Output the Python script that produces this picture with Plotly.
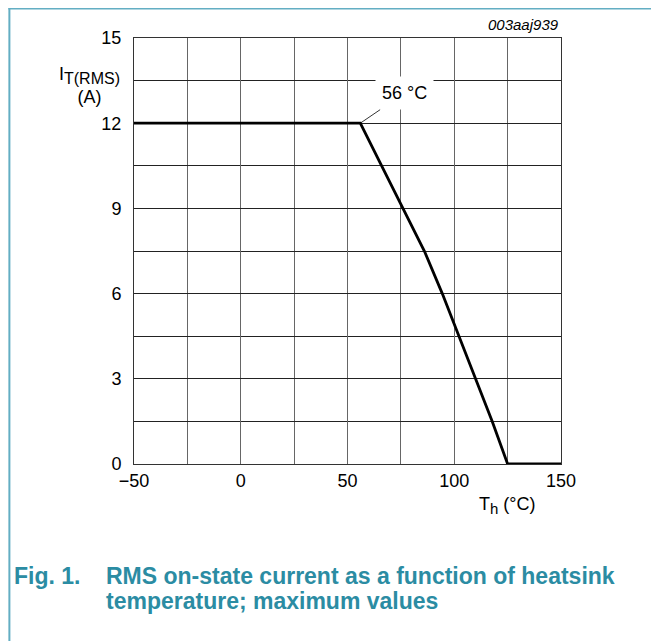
import plotly.graph_objects as go

# Data
temp_c = [-50, 56, 66.0, 76.0, 86.0, 94.4, 102.1, 110.0, 117.8, 125, 150]
current_a = [12, 12, 10.5, 9, 7.5, 6, 4.5, 3, 1.5, 0, 0]
x_ticks = [-50, 0, 50, 100, 150]
y_ticks = [0, 3, 6, 9, 12, 15]
x_grid = [-50, -25, 0, 25, 50, 75, 100, 125, 150]
y_grid = [0, 1.5, 3, 4.5, 6, 7.5, 9, 10.5, 12, 13.5, 15]

OFF = 8  # page body margin
W, H = 659 - OFF, 641 - OFF
L, R, T, B = 133.7 - OFF, 561 - OFF, 38 - OFF, 464 - OFF
pw, ph = R - L, B - T


def px_x(p):  # screen pixel -> paper
    return (p - OFF - L) / pw


def px_y(p):
    return (B - (p - OFF)) / ph


FONT = "Liberation Sans, Arial, sans-serif"
TEAL = "#2b8ca3"
FRAME = "#63aec3"

fig = go.Figure()
fig.add_trace(go.Scatter(x=temp_c, y=current_a, mode="lines",
                         line=dict(color="black", width=2.8), hoverinfo="skip"))

fig.update_xaxes(range=[-50, 150], tickvals=x_ticks, ticks="", showgrid=True,
                 gridcolor="#666", gridwidth=1, showline=True, linecolor="#333",
                 linewidth=1, mirror=True, zeroline=False, ticklabelstandoff=0,
                 tickfont=dict(family=FONT, size=18, color="black"),
                 minor=dict(tickvals=x_grid, showgrid=True, gridcolor="#666", gridwidth=1))
fig.update_yaxes(range=[0, 15], tickvals=y_ticks, ticks="", showgrid=True,
                 gridcolor="#222", gridwidth=1, showline=True, linecolor="#333",
                 linewidth=1, mirror=True, zeroline=False, ticklabelstandoff=8,
                 tickfont=dict(family=FONT, size=18, color="black"),
                 minor=dict(tickvals=y_grid, showgrid=True, gridcolor="#222", gridwidth=1))

shapes = [
    dict(type="line", xref="paper", yref="paper", x0=px_x(8), x1=px_x(700),
         y0=px_y(8.6), y1=px_y(8.6), line=dict(color=FRAME, width=1.8)),
    dict(type="line", xref="paper", yref="paper", x0=px_x(9), x1=px_x(9),
         y0=px_y(8), y1=px_y(700), line=dict(color=FRAME, width=2)),
]

annotations = [
    dict(x=56, y=12, xref="x", yref="y", text="56 °C", showarrow=True,
         arrowhead=0, arrowwidth=0.8, arrowcolor="black", ax=44, ay=-30,
         bgcolor="white", borderpad=6,
         font=dict(family=FONT, size=18, color="black")),
    dict(x=px_x(561), y=px_y(25), xref="paper", yref="paper", xanchor="right",
         yanchor="middle", text="<i>003aaj939</i>", showarrow=False,
         font=dict(family=FONT, size=15, color="black")),
    dict(x=px_x(122), y=px_y(86), xref="paper", yref="paper", xanchor="right",
         yanchor="middle", align="center",
         text="I<sub><span style='font-size:16px'>T(RMS)</span></sub><br>(A)",
         showarrow=False,
         font=dict(family=FONT, size=18, color="black")),
    dict(x=px_x(477), y=px_y(505), xref="paper", yref="paper", xanchor="left",
         yanchor="middle", text="T<sub><span style='font-size:15px'>h</span></sub> (°C)",
         showarrow=False,
         font=dict(family=FONT, size=18, color="black")),
    dict(x=px_x(12), y=px_y(576), xref="paper", yref="paper", xanchor="left",
         yanchor="middle", text="<b>Fig. 1.</b>", showarrow=False,
         font=dict(family=FONT, size=23, color=TEAL)),
    dict(x=px_x(104), y=px_y(576), xref="paper", yref="paper", xanchor="left",
         yanchor="middle", text="<b>RMS on-state current as a function of heatsink</b>",
         showarrow=False, font=dict(family=FONT, size=23, color=TEAL)),
    dict(x=px_x(104), y=px_y(601), xref="paper", yref="paper", xanchor="left",
         yanchor="middle", text="<b>temperature; maximum values</b>",
         showarrow=False, font=dict(family=FONT, size=23, color=TEAL)),
]

fig.update_layout(width=W, height=H, margin=dict(l=L, r=W - R, t=T, b=H - B),
                  paper_bgcolor="white", plot_bgcolor="white", showlegend=False,
                  shapes=shapes, annotations=annotations)

fig.write_html("out.html")
